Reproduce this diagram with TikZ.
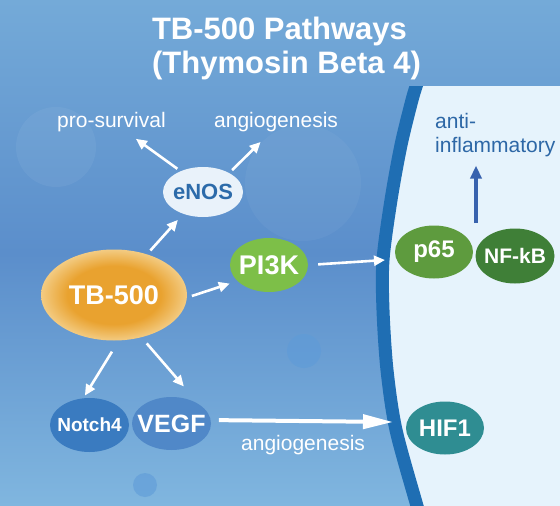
\documentclass[tikz,border=0pt]{standalone}
\usepackage{fontspec}
\setmainfont{Liberation Sans}
\usetikzlibrary{shapes.geometric,arrows.meta}
\definecolor{skytop}{HTML}{74AAD8}
\definecolor{skymid}{HTML}{5B8ECB}
\definecolor{skybot}{HTML}{80B6DF}
\definecolor{cellpale}{HTML}{E6F3FC}
\definecolor{membrane}{HTML}{1F6EB3}
\definecolor{bokeh}{HTML}{5E9BD8}
\definecolor{enosfill}{HTML}{E9F2FA}
\definecolor{enostext}{HTML}{2C6BAA}
\definecolor{tbcore}{HTML}{E9A22F}
\definecolor{tbrim}{HTML}{F3CB82}
\definecolor{pithree}{HTML}{7DBF48}
\definecolor{psixfive}{HTML}{5E9B3E}
\definecolor{nfkbgreen}{HTML}{3F7F37}
\definecolor{notchblue}{HTML}{3A7BC0}
\definecolor{vegfblue}{HTML}{5088C8}
\definecolor{hifteal}{HTML}{2F8D92}
\definecolor{inflblue}{HTML}{2D67A6}
\definecolor{inflarrow}{HTML}{3862AE}
\pgfdeclareradialshading{tbglow}{\pgfpoint{0bp}{0bp}}{color(0bp)=(tbcore); color(16bp)=(tbcore); color(25bp)=(tbrim); color(50bp)=(tbrim)}
\newcommand{\fsz}[1]{\fontsize{#1}{#1}\selectfont}

\begin{document}
\begin{tikzpicture}[x=1pt,y=-1pt,
  bubble/.style={ellipse,inner sep=0pt,minimum width=79pt,minimum height=54pt,text=white,
    execute at begin node=\hbox to 0pt\bgroup\hss,execute at end node=\hss\egroup},
  tag/.style={inner sep=2pt,text=white,font=\fsz{21},anchor=base west},
  flow/.style={-{Triangle[length=11pt,width=10pt]},white,line width=2.6pt},
  bigflow/.style={-{Triangle[length=30pt,width=14pt]},white,line width=4pt}]
\useasboundingbox (0,0) rectangle (560,506);
\fill[top color=skytop,bottom color=skybot,middle color=skymid] (0,0) rectangle (560,506);
% soft background spots
\fill[white,opacity=.05] (56,147) circle (40);
\fill[white,opacity=.04] (303,183) circle (58);
\fill[bokeh,opacity=.6] (304,351) circle (17);
\fill[bokeh,opacity=.6] (145,485) circle (12);
% cell side and membrane
\begin{scope}
\clip (0,86) rectangle (560,506);
\fill[cellpale] plot[smooth] coordinates {(421,66) (418,80) (412,100) (401,145) (391,200) (383,260) (383,310) (387,370) (396,430) (417,506) (421,520)} -- (560,520) -- (560,66) -- cycle;
\draw[membrane,line width=13pt] plot[smooth] coordinates {(421,66) (418,80) (412,100) (401,145) (391,200) (383,260) (383,310) (387,370) (396,430) (417,506) (421,520)};
\end{scope}

\node[text=white,font=\fsz{31}\bfseries,anchor=base] (title1) at (279.5,39) {TB-500 Pathways};
\node[text=white,font=\fsz{31}\bfseries,anchor=base] (title2) at (286.5,73) {(Thymosin Beta 4)};

\node[bubble,minimum width=146pt,minimum height=91pt,shading=tbglow,font=\fsz{27}\bfseries] (tb) at (114,295) {TB-500};
\node[bubble,fill=enosfill,text=enostext,minimum width=80pt,minimum height=50pt,font=\fsz{22}\bfseries] (enos) at (203,192) {eNOS};
\node[bubble,fill=pithree,minimum width=78pt,font=\fsz{27}\bfseries] (pi3k) at (269,265) {PI3K};
\node[bubble,fill=psixfive,minimum width=78pt,minimum height=53pt,font=\fsz{24}\bfseries] (p65) at (434,252) {p65};
\node[bubble,fill=nfkbgreen,minimum height=55pt,font=\fsz{21}\bfseries] (nfkb) at (515,256) {NF-kB};
\node[bubble,fill=notchblue,font=\fsz{19}\bfseries] (notch) at (89.5,425) {Notch4};
\node[bubble,fill=vegfblue,minimum height=53pt,font=\fsz{25}\bfseries] (vegf) at (171.5,423.5) {VEGF};
\node[bubble,fill=hifteal,minimum width=78pt,minimum height=53pt,font=\fsz{24}\bfseries] (hif) at (445,428) {HIF1};

\node[tag] (prosurv) at (55,127) {pro-survival};
\node[tag] (angiotop) at (212,127) {angiogenesis};
\node[tag] (angiolow) at (239,450) {angiogenesis};
\node[tag,text=inflblue,align=left,font=\fontsize{21}{24}\selectfont] (infl) at (433,152) {anti-\\inflammatory};

\coordinate (membin) at (385,260);
\coordinate (membhif) at (393,422);
\coordinate (complex) at (476,223);

\draw[flow,shorten <=4pt,shorten >=9pt] (enos.137) -- (prosurv.-35);
\draw[flow,shorten <=4pt,shorten >=12pt] (enos.36) -- (angiotop.240);
\draw[flow,shorten <=5pt,shorten >=8pt] (tb.51) -- (enos.228);
\draw[flow,shorten <=5pt,shorten >=8pt] (tb.-2) -- (pi3k.207);
\draw[flow,shorten <=10pt] (pi3k.0) -- (membin);
\draw[flow,shorten <=13pt,shorten >=3pt] (tb.276) -- (notch.103);
\draw[flow,shorten <=8pt,shorten >=24pt] (tb.303) -- (vegf.north east);
\draw[bigflow,shorten <=8pt] (vegf.5) -- (membhif);
\draw[-{Triangle[length=13pt,width=11pt]},inflarrow,line width=3.5pt,shorten >=7pt] (complex) -- (infl.south -| complex);
\end{tikzpicture}
\end{document}
